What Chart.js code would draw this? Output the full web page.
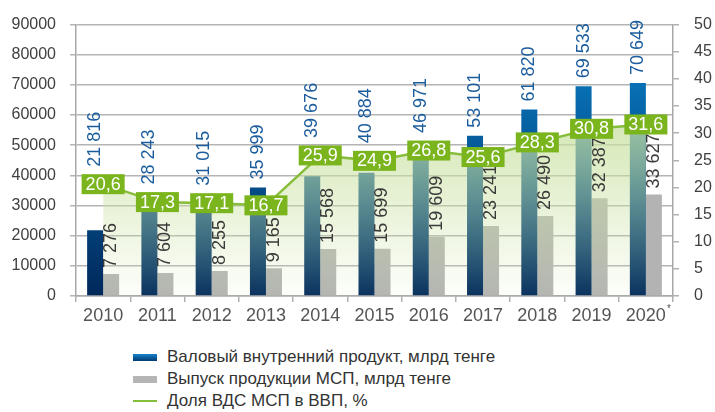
<!DOCTYPE html>
<html>
<head>
<meta charset="utf-8">
<script src="https://cdn.jsdelivr.net/npm/chart.js@4/dist/chart.umd.min.js"></script>
<style>
    body { margin: 0; background: #fff; font-family: "Liberation Sans", Arial, sans-serif; }
    #wrap { position: relative; width: 715px; height: 412px; }
    #box { position: absolute; left: 0; top: 0; width: 715px; height: 330px; }
    #legend { position: absolute; left: 133px; top: 346px; }
    .item { height: 22px; display: flex; align-items: center; font-size: 17px; color: #333; }
    .sw { width: 24px; height: 7px; margin-right: 10px; }
    .sw.line { height: 2px; background: #86bd3a; }
</style>
</head>
<body>
<div id="wrap">
    <div id="box"><canvas id="chart"></canvas></div>
    <div id="legend">
        <div class="item"><span class="sw" style="background: linear-gradient(#1a82cc, #003a72);"></span>Валовый внутренний продукт, млрд тенге</div>
        <div class="item"><span class="sw" style="background: #b5b5b5;"></span>Выпуск продукции МСП, млрд тенге</div>
        <div class="item"><span class="sw line"></span>Доля ВДС МСП в ВВП, %</div>
    </div>
</div>
<script>
const years = ['2010', '2011', '2012', '2013', '2014', '2015', '2016', '2017', '2018', '2019', '2020'];
const gdp = [21816, 28243, 31015, 35999, 39676, 40884, 46971, 53101, 61820, 69533, 70649];
const smeOutput = [7276, 7604, 8255, 9165, 15568, 15699, 19609, 23241, 26490, 32387, 33627];
const smeShare = [20.6, 17.3, 17.1, 16.7, 25.9, 24.9, 26.8, 25.6, 28.3, 30.8, 31.6];
const leftTicks = [0, 10000, 20000, 30000, 40000, 50000, 60000, 70000, 80000, 90000];
const rightTicks = [0, 5, 10, 15, 20, 25, 30, 35, 40, 45, 50];

const FONT = '"Liberation Sans", Arial, sans-serif';

function fmtThousands(v) {
    return String(v).replace(/\B(?=(\d{3})+(?!\d))/g, ' ');
}
function fmtPct(v) {
    return v.toFixed(1).replace('.', ',');
}

function blueGradient(ctx) {
    const area = ctx.chart.chartArea;
    if (!area) return '#0a5a9a';
    const g = ctx.chart.ctx.createLinearGradient(0, area.bottom, 0, area.top);
    g.addColorStop(0, '#00285a');
    g.addColorStop(1, '#0a84ce');
    return g;
}

function areaGradient(ctx) {
    const area = ctx.chart.chartArea;
    if (!area) return 'rgba(195,220,150,0.5)';
    const g = ctx.chart.ctx.createLinearGradient(0, area.top + 0.3 * (area.bottom - area.top), 0, area.bottom);
    g.addColorStop(0, 'rgba(200,224,160,0.85)');
    g.addColorStop(1, 'rgba(205,228,165,0.05)');
    return g;
}

// value labels: rotated numbers over the bars and green boxes on the line
const labelPlugin = {
    id: 'valueLabels',
    afterDatasetsDraw(chart) {
        const ctx = chart.ctx;
        const blue = chart.getDatasetMeta(0).data;
        const grey = chart.getDatasetMeta(1).data;
        const pts = chart.getDatasetMeta(2).data;
        ctx.save();
        ctx.font = '18px ' + FONT;
        ctx.textBaseline = 'middle';
        ctx.textAlign = 'left';
        for (let i = 0; i < years.length; i++) {
            const boxTop = pts[i].y - 9.5;
            // blue bar value
            let y0 = Math.min(blue[i].y, boxTop) - 8;
            ctx.save();
            ctx.translate(blue[i].x, y0);
            ctx.rotate(-Math.PI / 2);
            ctx.fillStyle = '#1b5c9c';
            ctx.fillText(fmtThousands(gdp[i]), 0, 0);
            ctx.restore();
            // grey bar value
            ctx.save();
            ctx.translate(grey[i].x, grey[i].y - 6);
            ctx.rotate(-Math.PI / 2);
            ctx.fillStyle = '#3a3a3a';
            ctx.fillText(fmtThousands(smeOutput[i]), 0, 0);
            ctx.restore();
        }
        // percent boxes
        ctx.textAlign = 'center';
        for (let i = 0; i < years.length; i++) {
            const t = fmtPct(smeShare[i]);
            const w = ctx.measureText(t).width + 8;
            ctx.fillStyle = '#7ab51e';
            ctx.fillRect(pts[i].x - w / 2, pts[i].y - 10, w, 20);
            ctx.fillStyle = '#ffffff';
            ctx.fillText(t, pts[i].x, pts[i].y + 0.5);
        }
        ctx.restore();
    },
    afterDraw(chart) {
        // footnote mark on the last year
        const ctx = chart.ctx;
        const xs = chart.scales.x;
        ctx.save();
        ctx.font = '18px ' + FONT;
        const w = ctx.measureText(years[years.length - 1]).width;
        ctx.font = '10px ' + FONT;
        ctx.fillStyle = '#555';
        ctx.textAlign = 'left';
        ctx.textBaseline = 'top';
        ctx.fillText('*', xs.getPixelForValue(years.length - 1) + w / 2 + 1, 304);
        ctx.restore();
    }
};

new Chart(document.getElementById('chart'), {
    data: {
        labels: years,
        datasets: [
            {
                type: 'bar',
                label: 'Валовый внутренний продукт, млрд тенге',
                data: gdp,
                yAxisID: 'y',
                backgroundColor: blueGradient,
                barPercentage: 1,
                categoryPercentage: 0.59,
                order: 1
            },
            {
                type: 'bar',
                label: 'Выпуск продукции МСП, млрд тенге',
                data: smeOutput,
                yAxisID: 'y',
                backgroundColor: '#b3b3b3',
                barPercentage: 1,
                categoryPercentage: 0.59,
                order: 1
            },
            {
                type: 'line',
                label: 'Доля ВДС МСП в ВВП, %',
                data: smeShare,
                yAxisID: 'y2',
                borderColor: '#86bd3a',
                borderWidth: 2.5,
                pointRadius: 0,
                tension: 0,
                fill: 'origin',
                backgroundColor: areaGradient,
                order: 0
            }
        ]
    },
    options: {
        responsive: true,
        maintainAspectRatio: false,
        animation: false,
        layout: { padding: { top: 15, left: 0, right: 0, bottom: 0 } },
        plugins: {
            legend: { display: false },
            tooltip: { enabled: false }
        },
        scales: {
            x: {
                offset: true,
                grid: { offset: true, drawOnChartArea: false, tickLength: 6, color: '#b0b0b0', lineWidth: 1.5 },
                border: { color: '#a8a8a8', width: 1.5 },
                ticks: { color: '#555', font: { family: FONT, size: 18 }, padding: 3, maxRotation: 0 },
                afterFit(scale) { scale.height = 34; }
            },
            y: {
                position: 'left',
                min: leftTicks[0],
                max: leftTicks[leftTicks.length - 1],
                afterBuildTicks(scale) { scale.ticks = leftTicks.map(v => ({ value: v })); },
                grid: { color: '#b4b4b4', lineWidth: 1.5, tickLength: 6 },
                border: { color: '#a8a8a8', width: 1.5 },
                ticks: { color: '#404040', font: { family: FONT, size: 16 }, padding: 14, callback: v => String(v) },
                afterFit(scale) { scale.width = 76; }
            },
            y2: {
                position: 'right',
                min: rightTicks[0],
                max: rightTicks[rightTicks.length - 1],
                afterBuildTicks(scale) { scale.ticks = rightTicks.map(v => ({ value: v })); },
                grid: { drawOnChartArea: false, color: '#b0b0b0', lineWidth: 1.5, tickLength: 6 },
                border: { color: '#a8a8a8', width: 1.5 },
                ticks: { color: '#404040', font: { family: FONT, size: 16 }, padding: 15, callback: v => String(v) },
                afterFit(scale) { scale.width = 42; }
            }
        }
    },
    plugins: [labelPlugin]
});
</script>
</body>
</html>
